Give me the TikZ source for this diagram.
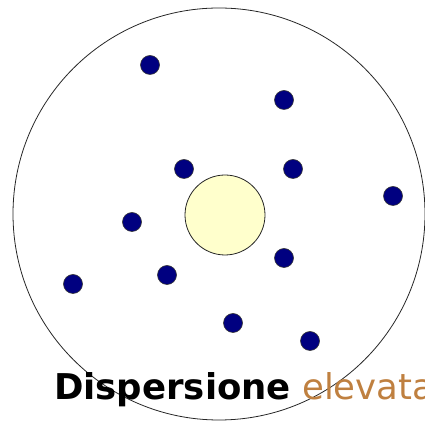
\documentclass[tikz,border=0pt]{standalone}
\usepackage{fontspec}
\setmainfont{DejaVu Sans}
\usepackage{tkz-euclide}
\definecolor{dotblue}{HTML}{000080}
\definecolor{pale}{HTML}{FFFFCC}
\definecolor{ochre}{HTML}{BF8040}
\tikzset{dot/.style={fill=dotblue,draw=black!80,line width=0.6pt}}
\begin{document}
\begin{tikzpicture}[x=1pt,y=1pt]
\useasboundingbox (0,0) rectangle (425,422);
\tkzDefPoint(219,208){O}
\tkzDefPoint(425,208){N}
\tkzDefPoint(225,207){C}
\tkzDefPoint(265,207){M}
\tkzDrawCircle[line width=0.8pt,draw=black!85](O,N)
\tkzDrawCircle[fill=pale,line width=0.8pt,draw=black!85](C,M)
\foreach \px/\py [count=\i] in {150/65,284/100,184/169,293/169,393/196,
  132/222,284/258,167/275,73/284,233/323,310/341}
  \draw[dot] (\px,422-\py) circle (9.5);
\node[anchor=base west,inner sep=0pt,font=\fontsize{35.5}{40}\selectfont]
  (lbl) at (54,22) {\textbf{Dispersione} \textcolor{ochre}{elevata}};
\end{tikzpicture}
\end{document}
